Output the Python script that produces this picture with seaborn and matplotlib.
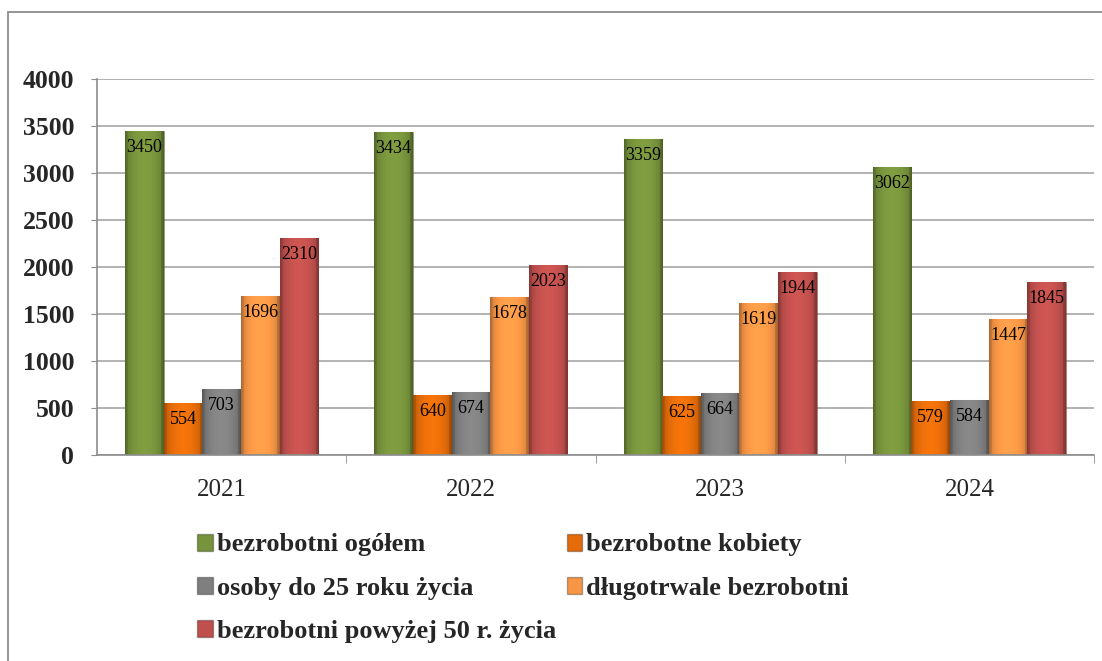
import matplotlib
matplotlib.use("Agg")
import matplotlib.pyplot as plt
import matplotlib.patches as mpatches
from matplotlib.colors import to_rgb, to_rgba
import numpy as np
import pandas as pd
import seaborn as sns

years = ["2021", "2022", "2023", "2024"]
series = ["bezrobotni ogółem", "bezrobotne kobiety", "osoby do 25 roku życia",
          "długotrwale bezrobotni", "bezrobotni powyżej 50 r. życia"]
ogolem = [3450, 3434, 3359, 3062]
kobiety = [554, 640, 625, 579]
do25 = [703, 674, 664, 584]
dlugotrwale = [1696, 1678, 1619, 1447]
powyzej50 = [2310, 2023, 1944, 1845]
colors = ["#77933C", "#E46C0A", "#7F7F7F", "#F79646", "#C0504D"]

rows = []
for name, vals in zip(series, [ogolem, kobiety, do25, dlugotrwale, powyzej50]):
    for y, v in zip(years, vals):
        rows.append({"rok": y, "seria": name, "wartosc": v})
df = pd.DataFrame(rows)

sns.set_style("white")
plt.rcParams["font.family"] = ["Liberation Serif", "DejaVu Serif"]

fig = plt.figure(figsize=(11.02, 6.61), dpi=100)
ax = fig.add_axes([97 / 1102, 0.3116, 997 / 1102, 0.5689])

# outer chart border
fig.patches.append(mpatches.Rectangle((8 / 1102, -0.01), 1.2, 1 - 12 / 661 + 0.01,
                                      transform=fig.transFigure, fill=False,
                                      edgecolor="#8C8C8C", linewidth=1.3))

sns.barplot(data=df, x="rok", y="wartosc", hue="seria", palette=colors,
            width=0.775, gap=0, ax=ax, legend=False, saturation=1,
            edgecolor="none")


def shade(c):
    # soft horizontal gradient, darker at the sides like the bevelled bars
    base = np.array(to_rgb(c))
    t = np.linspace(0, 1, 40)
    f = 0.78 + 0.3 * np.sin(np.pi * t) ** 0.6
    f[:3] *= 0.9
    f[-3:] *= 0.85
    img = np.clip(base[None, :] * f[:, None], 0, 1)
    return img[None, :, :]


for cont, c in zip(ax.containers, colors):
    for bar in cont:
        x0, y0 = bar.get_x(), bar.get_y()
        w, h = bar.get_width(), bar.get_height()
        im = ax.imshow(shade(c), extent=[x0, x0 + w, y0, y0 + h], aspect="auto",
                       zorder=bar.get_zorder(), interpolation="bilinear")
        im.set_clip_path(bar)
        bar.set_edgecolor(to_rgba("black", 0.2))
        bar.set_linewidth(0.8)
    ax.bar_label(cont, labels=[f"{int(b.get_height())}" for b in cont],
                 padding=-18, fontsize=13, color="black", zorder=5)

ax.set_ylim(0, 4000)
ax.set_xlim(-0.5, 3.5)
ax.set_yticks(np.arange(0, 4001, 500))
ax.yaxis.grid(True, color="#A6A6A6", linewidth=1.2)
ax.set_axisbelow(True)
for s in ["top", "right"]:
    ax.spines[s].set_visible(False)
for s in ["left", "bottom"]:
    ax.spines[s].set_color("#8C8C8C")
    ax.spines[s].set_linewidth(1.2)
ax.set_xlabel("")
ax.set_ylabel("")
ax.tick_params(axis="y", labelsize=18.5, left=True, length=4.5, color="#8C8C8C", pad=12)
for t in ax.get_yticklabels():
    t.set_fontweight("bold")
ax.tick_params(axis="x", labelsize=18, bottom=False, pad=14)
ax.set_xticks(np.arange(0.5, 3.6, 1), minor=True)
ax.tick_params(axis="x", which="minor", bottom=True, length=6, color="#8C8C8C")

handles = [mpatches.Patch(facecolor=c, edgecolor=to_rgba("black", 0.3)) for c in colors]
order = [0, 2, 4, 1, 3]
fig.legend([handles[i] for i in order], [series[i] for i in order], ncol=2,
           loc="upper left", bbox_to_anchor=(197 / 1102, 0.193), frameon=False,
           prop={"weight": "bold", "size": 19}, handlelength=0.6, handleheight=0.6,
           handletextpad=0.15, columnspacing=0.4, labelspacing=0.77,
           borderaxespad=0, borderpad=0)

fig.savefig("out.png", dpi=100)
